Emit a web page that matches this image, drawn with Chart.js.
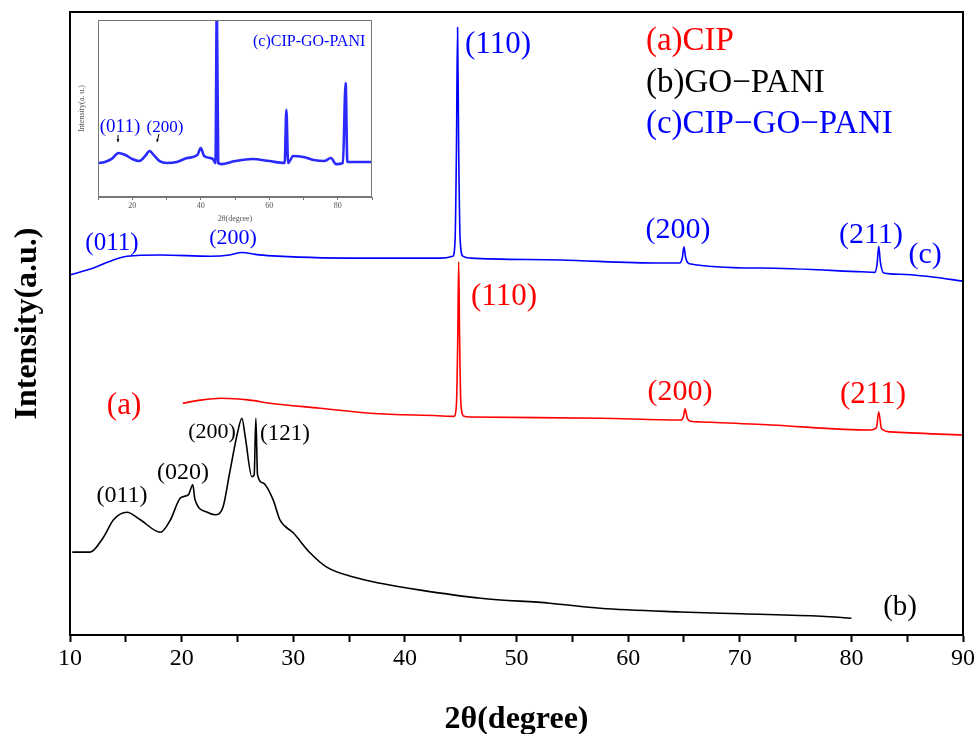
<!DOCTYPE html>
<html>
<head>
<meta charset="utf-8">
<script src="https://cdn.jsdelivr.net/npm/chart.js@4.4.1/dist/chart.umd.min.js"></script>
<style>
  body { margin: 0; background: #fff; }
  #wrap { position: relative; width: 979px; height: 734px; }
  #mainChart { position: absolute; left: 0; top: 0; }
  #insetChart { position: absolute; left: 74px; top: 14px; }
</style>
</head>
<body>
<div id="wrap">
  <canvas id="mainChart" width="979" height="734"></canvas>
  <canvas id="insetChart" width="304" height="212"></canvas>
</div>
<script>
"use strict"

// (a) CIP
var cipTheta = [20.1, 21.7, 23.6, 26.1, 27.9, 32.4, 36.9, 42.9, 44.4, 44.62, 44.74, 44.82, 44.9, 45.02, 45.3, 45.9,
  57.5, 64.7, 64.95, 65.1, 65.3, 65.6, 66.5, 72.8, 81.7, 82.25, 82.45, 82.7, 83.5, 90];
var cipIntensity = [37.2, 37.7, 38.0, 37.7, 37.2, 36.4, 35.6, 35.2, 35.1, 37.0, 48.0, 59.9, 48.0, 37.0, 35.1, 35.0,
  34.8, 34.5, 35.0, 36.3, 34.8, 34.3, 34.2, 33.7, 32.9, 33.3, 35.8, 33.1, 32.6, 32.1];

// (b) GO-PANI
var goPaniTheta = [10.2, 11.8, 13.0, 13.9, 15.1, 16.3, 18.1, 19.0, 19.9, 20.6, 21.0, 21.2, 22.3, 23.0, 23.7, 24.3,
  25.0, 25.4, 25.7, 26.3, 26.5, 26.65, 26.8, 27.3, 28.2, 28.8, 30.0, 31.5, 33.0, 35.4, 37.8, 41.4, 46.8, 53.0,
  57.5, 64.7, 70.1, 77.3, 80.0];
var goPaniIntensity = [13.3, 13.3, 15.7, 18.5, 19.7, 18.5, 16.5, 18.5, 22.0, 22.5, 24.1, 21.7, 19.7, 19.3, 20.5, 26.0,
  32.4, 34.8, 31.8, 25.4, 25.7, 34.8, 25.7, 24.4, 21.7, 18.5, 16.4, 13.2, 10.9, 9.3, 8.3, 7.2, 5.9, 5.1,
  4.3, 3.7, 3.4, 3.0, 2.7];

// (c) CIP-GO-PANI
var cgpTheta = [10, 12.1, 13.6, 15.1, 18.1, 22.6, 24.3, 25.4, 26.6, 27.7, 36, 43.2, 44.3, 44.5, 44.62, 44.72, 44.82,
  44.95, 45.2, 45.9, 53.9, 62.9, 64.6, 64.85, 65.0, 65.15, 65.5, 71.9, 80.9, 82.1, 82.3, 82.45, 82.6, 82.9, 84.4, 87.1, 90];
var cgpIntensity = [57.8, 58.9, 60.0, 60.8, 61.0, 60.8, 61.0, 61.4, 61.1, 60.9, 60.5, 60.5, 60.8, 63.5, 78, 97.5, 78,
  63.5, 60.8, 60.5, 60.2, 59.7, 59.7, 60.5, 62.3, 60.6, 59.6, 58.9, 58.3, 58.2, 59.5, 62.4, 59.8, 58.1, 57.9, 57.5, 56.8];

// inset: (c) CIP-GO-PANI, own scale
var insetTheta = [10, 12, 14, 16, 18, 20, 22, 24, 25, 26.5, 28, 30, 33, 36, 39, 40, 41, 43.5, 44.3, 44.7, 45.1, 46,
  50, 55, 60, 64.5, 65, 65.5, 67, 70, 73, 76, 78, 79.5, 81.5, 82.3, 82.8, 85, 90];
var insetIntensity = [19.2, 19.8, 21.5, 24.9, 23.7, 21.5, 20.3, 23.7, 26.0, 23.2, 20.3, 19.2, 19.8, 22.0, 23.7, 27.7,
  23.2, 21.5, 19.2, 110, 19.2, 18.6, 20.3, 21.5, 20.3, 19.2, 49.2, 19.2, 23.2, 22.6, 20.9, 20.3, 22.0, 18.6, 19.2,
  64.4, 19.8, 19.8, 19.8];

var xTickLabels = [10, 20, 30, 40, 50, 60, 70, 80, 90];
var insetTickLabels = [20, 40, 60, 80];

var BLUE = '#0000ff', RED = '#ff0000', BLACK = '#000000';
var serif = "'Liberation Serif', 'Times New Roman', serif";

var peakLabels = [
  {text: '(110)', x: 48.34, y: 94.7, color: BLUE, size: 31},
  {text: '(011)', x: 13.76, y: 62.9, color: BLUE, size: 25},
  {text: '(200)', x: 24.6, y: 63.7, color: BLUE, size: 22},
  {text: '(200)', x: 64.47, y: 65.0, color: BLUE, size: 30},
  {text: '(211)', x: 81.76, y: 64.2, color: BLUE, size: 30},
  {text: '(c)', x: 86.6, y: 61.0, color: BLUE, size: 30},
  {text: '(110)', x: 48.88, y: 54.25, color: RED, size: 31},
  {text: '(a)', x: 14.84, y: 36.8, color: RED, size: 31},
  {text: '(200)', x: 64.65, y: 39.0, color: RED, size: 30},
  {text: '(211)', x: 81.94, y: 38.5, color: RED, size: 31},
  {text: '(011)', x: 14.66, y: 22.3, color: BLACK, size: 24},
  {text: '(020)', x: 20.12, y: 26.0, color: BLACK, size: 24},
  {text: '(200)', x: 22.72, y: 32.6, color: BLACK, size: 22},
  {text: '(121)', x: 29.26, y: 32.3, color: BLACK, size: 23},
  {text: '(b)', x: 84.36, y: 4.5, color: BLACK, size: 29}
];
var legendLines = [
  {text: '(a)CIP', y: 95.35, color: RED},
  {text: '(b)GO\u2212PANI', y: 88.6, color: BLACK},
  {text: '(c)CIP\u2212GO\u2212PANI', y: 82.0, color: BLUE}
];
var legendX = 61.6;

function points(xs, ys) {
  return xs.map(function(x, i){ return {x: x, y: ys[i]}; });
}

// frame around the plot + all the text marks
var mainDecor = {
  id: 'mainDecor',
  afterDraw: function(chart) {
    var ctx = chart.ctx, a = chart.chartArea;
    var sx = chart.scales.x, sy = chart.scales.y;
    ctx.save();
    ctx.strokeStyle = '#000';
    ctx.lineWidth = 2;
    ctx.strokeRect(a.left, a.top, a.right - a.left, a.bottom - a.top);
    ctx.textAlign = 'center';
    ctx.textBaseline = 'middle';
    peakLabels.forEach(function(l){
      ctx.fillStyle = l.color;
      ctx.font = l.size + 'px ' + serif;
      ctx.fillText(l.text, sx.getPixelForValue(l.x), sy.getPixelForValue(l.y));
    });
    ctx.textAlign = 'left';
    ctx.font = '33px ' + serif;
    legendLines.forEach(function(l){
      ctx.fillStyle = l.color;
      ctx.fillText(l.text, sx.getPixelForValue(legendX), sy.getPixelForValue(l.y));
    });
    ctx.restore();
  }
};

var mainChart = new Chart(document.getElementById('mainChart').getContext('2d'), {
  type: 'line',
  data: {
    datasets: [
      { label: '(b)GO-PANI', data: points(goPaniTheta, goPaniIntensity), borderColor: BLACK },
      { label: '(a)CIP', data: points(cipTheta, cipIntensity), borderColor: RED },
      { label: '(c)CIP-GO-PANI', data: points(cgpTheta, cgpIntensity), borderColor: BLUE }
    ]
  },
  options: {
    responsive: false,
    animation: false,
    events: [],
    layout: { padding: { top: 12, right: 16, left: 0, bottom: 0 } },
    elements: { point: { radius: 0 }, line: { borderWidth: 1.6, cubicInterpolationMode: 'monotone' } },
    plugins: { legend: { display: false }, tooltip: { enabled: false } },
    scales: {
      x: {
        type: 'linear', min: 10, max: 90,
        ticks: {
          stepSize: 5, autoSkip: false, maxRotation: 0, padding: 2,
          color: '#000', font: { family: serif, size: 24 },
          callback: function(v){ return xTickLabels.indexOf(v) >= 0 ? String(v) : ''; }
        },
        grid: { drawOnChartArea: false, tickLength: 7, tickWidth: 2, tickColor: '#000' },
        border: { color: '#000', width: 2 },
        title: {
          display: true, text: '2\u03b8(degree)', color: '#000',
          font: { family: serif, size: 32, weight: 'bold', lineHeight: 0.875 },
          padding: { top: 0, bottom: 0 }
        },
        afterFit: function(s){ s.height = 99; s.paddingLeft = 0; s.paddingRight = 0; }
      },
      y: {
        min: 0, max: 100,
        ticks: { display: false },
        grid: { display: false },
        border: { display: false },
        title: {
          display: true, text: 'Intensity(a.u.)', color: '#000',
          font: { family: serif, size: 32, weight: 'bold', lineHeight: 1 },
          padding: { top: 12, bottom: 0 }
        },
        afterFit: function(s){ s.width = 70; s.paddingTop = 0; s.paddingBottom = 0; }
      }
    }
  },
  plugins: [mainDecor]
});

// inset
var insetDecor = {
  id: 'insetDecor',
  afterDraw: function(chart) {
    var ctx = chart.ctx, a = chart.chartArea;
    var sx = chart.scales.x, sy = chart.scales.y;
    ctx.save();
    ctx.strokeStyle = '#777';
    ctx.lineWidth = 1;
    ctx.strokeRect(a.left + 0.5, a.top + 0.5, a.right - a.left - 1, a.bottom - a.top - 1);
    ctx.fillStyle = BLUE;
    ctx.textBaseline = 'middle';
    ctx.textAlign = 'left';
    ctx.font = '16px ' + serif;
    ctx.fillText('(c)CIP-GO-PANI', sx.getPixelForValue(55.26), sy.getPixelForValue(87.6));
    ctx.textAlign = 'center';
    ctx.font = '19px ' + serif;
    ctx.fillText('(011)', sx.getPixelForValue(16.42), sy.getPixelForValue(39.5));
    ctx.font = '17px ' + serif;
    ctx.fillText('(200)', sx.getPixelForValue(29.56), sy.getPixelForValue(39.5));
    // little arrows under the two labels
    ctx.strokeStyle = '#000';
    ctx.fillStyle = '#000';
    [[15.84, 35.0, 15.84, 31.1], [27.81, 35.6, 27.23, 31.1]].forEach(function(r){
      var x1 = sx.getPixelForValue(r[0]), y1 = sy.getPixelForValue(r[1]);
      var x2 = sx.getPixelForValue(r[2]), y2 = sy.getPixelForValue(r[3]);
      var ang = Math.atan2(y2 - y1, x2 - x1);
      ctx.beginPath();
      ctx.moveTo(x1, y1);
      ctx.lineTo(x2, y2);
      ctx.stroke();
      ctx.beginPath();
      ctx.moveTo(x2, y2);
      ctx.lineTo(x2 - 3 * Math.cos(ang - 0.5), y2 - 3 * Math.sin(ang - 0.5));
      ctx.lineTo(x2 - 3 * Math.cos(ang + 0.5), y2 - 3 * Math.sin(ang + 0.5));
      ctx.closePath();
      ctx.fill();
    });
    ctx.restore();
  }
};

var insetChart = new Chart(document.getElementById('insetChart').getContext('2d'), {
  type: 'line',
  data: {
    datasets: [
      { label: '(c)CIP-GO-PANI', data: points(insetTheta, insetIntensity), borderColor: '#2a2aff', borderWidth: 2.6 }
    ]
  },
  options: {
    responsive: false,
    animation: false,
    events: [],
    layout: { padding: { top: 6, right: 6, left: 0, bottom: 0 } },
    elements: { point: { radius: 0 }, line: { cubicInterpolationMode: 'monotone' } },
    plugins: { legend: { display: false }, tooltip: { enabled: false } },
    scales: {
      x: {
        type: 'linear', min: 10, max: 90,
        ticks: {
          stepSize: 10, autoSkip: false, maxRotation: 0, padding: 1,
          color: '#555', font: { family: serif, size: 8 },
          callback: function(v){ return insetTickLabels.indexOf(v) >= 0 ? String(v) : ''; }
        },
        grid: { drawOnChartArea: false, tickLength: 3, color: '#777' },
        border: { color: '#777', width: 1 },
        title: {
          display: true, text: '2\u03b8(degree)', color: '#555',
          font: { family: serif, size: 8, lineHeight: 1 },
          padding: { top: 0, bottom: 3 }
        },
        afterFit: function(s){ s.height = 29; s.paddingLeft = 0; s.paddingRight = 0; }
      },
      y: {
        min: 0, max: 100,
        ticks: { display: false },
        grid: { display: false },
        border: { display: false },
        title: {
          display: true, text: 'Intensity(a. u.)', color: '#555',
          font: { family: serif, size: 8, lineHeight: 1 },
          padding: { top: 4, bottom: 0 }
        },
        afterFit: function(s){ s.width = 24; s.paddingTop = 0; s.paddingBottom = 0; }
      }
    }
  },
  plugins: [insetDecor]
});
</script>
</body>
</html>
